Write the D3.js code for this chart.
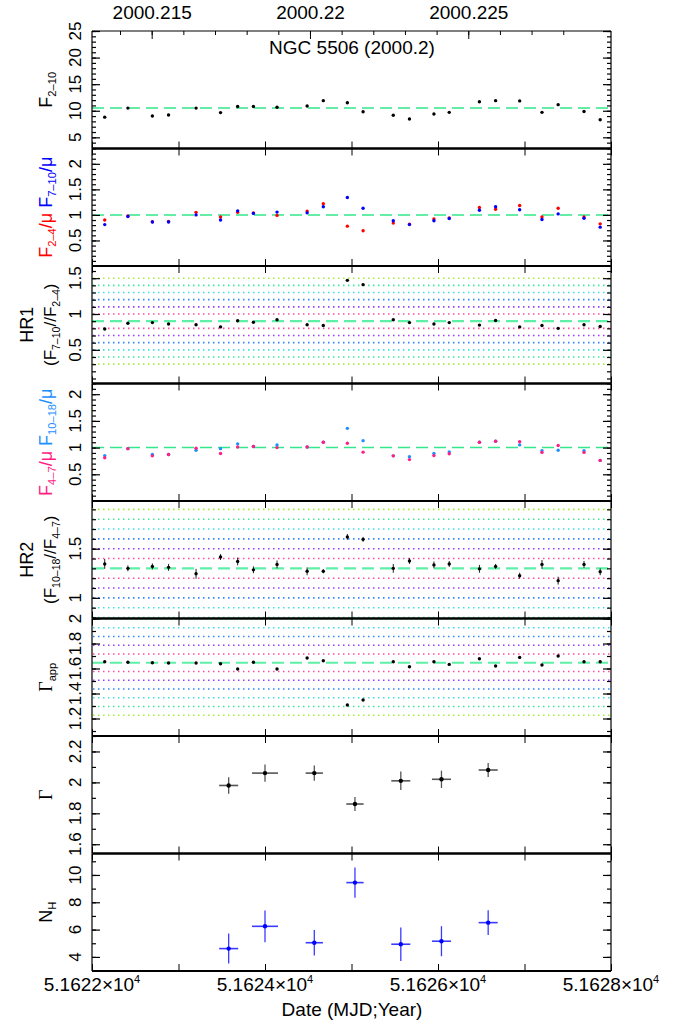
<!DOCTYPE html>
<meta charset="utf-8">
<head>
	<title>NGC 5506 (2000.2)</title>
</head>
<style>
	body { margin: 0; background: #fff; }
	text { font-family: "Liberation Sans", Arial, sans-serif; }
	.tick text { font-size: 19px; }
</style>
<body>
<div id="chart"></div>
<script src="https://d3js.org/d3.v7.min.js"></script>
<script>

// ---- light curve (24 bins) ----
var mjd = [51622.147, 51622.415, 51622.698, 51622.885, 51623.203, 51623.486, 51623.684, 51623.866,
	51624.139, 51624.487, 51624.674, 51624.952, 51625.134, 51625.483, 51625.670, 51625.953,
	51626.130, 51626.479, 51626.666, 51626.944, 51627.202, 51627.389, 51627.688, 51627.875];

var f210 = [8.8, 10.5, 9.0, 9.2, 10.5, 9.65, 10.8, 10.8, 10.65, 10.9, 11.9, 11.5,
	9.8, 9.15, 8.45, 9.4, 9.7, 11.7, 11.9, 11.85, 9.7, 11.15, 9.85, 8.3];
var f210Mean = 10.5;

var f24 = [0.90, 0.98, 0.865, 0.87, 1.05, 0.96, 1.05, 1.04, 0.99, 1.075, 1.22, 0.78,
	0.69, 0.84, 0.82, 0.92, 0.94, 1.145, 1.11, 1.185, 0.96, 1.13, 0.96, 0.825];
var f710 = [0.81, 0.97, 0.86, 0.86, 1.0, 0.90, 1.08, 1.03, 1.055, 1.04, 1.16, 1.34,
	1.13, 0.885, 0.81, 0.885, 0.93, 1.09, 1.16, 1.10, 0.91, 1.02, 0.935, 0.76];

var hr1 = [0.79, 0.87, 0.88, 0.86, 0.85, 0.82, 0.905, 0.885, 0.92, 0.85, 0.84, 1.47,
	1.41, 0.92, 0.88, 0.86, 0.88, 0.845, 0.91, 0.82, 0.84, 0.80, 0.85, 0.825];
var hr1Err = [0.012, 0.01, 0.01, 0.01, 0.01, 0.012, 0.01, 0.01, 0.01, 0.01, 0.01, 0.012,
	0.012, 0.01, 0.01, 0.01, 0.01, 0.01, 0.01, 0.01, 0.01, 0.01, 0.01, 0.012];
var hr1Mean = 0.9;

var f47 = [0.81, 0.98, 0.845, 0.87, 0.99, 0.89, 1.01, 1.02, 1.00, 1.01, 1.10, 1.08,
	0.915, 0.845, 0.775, 0.85, 0.885, 1.10, 1.12, 1.11, 0.91, 1.04, 0.91, 0.76];
var f1018 = [0.85, 0.98, 0.87, 0.87, 0.95, 0.98, 1.07, 1.02, 1.05, 1.01, 1.10, 1.36,
	1.13, 0.845, 0.83, 0.89, 0.92, 1.10, 1.12, 1.05, 0.94, 0.95, 0.94, 0.76];

var hr2 = [1.345, 1.30, 1.32, 1.31, 1.245, 1.415, 1.37, 1.285, 1.34, 1.27, 1.27, 1.62,
	1.595, 1.30, 1.375, 1.335, 1.345, 1.295, 1.32, 1.225, 1.34, 1.175, 1.34, 1.265];
var hr2Err = [0.05, 0.03, 0.03, 0.035, 0.05, 0.03, 0.04, 0.035, 0.04, 0.04, 0.02, 0.03,
	0.025, 0.045, 0.03, 0.035, 0.03, 0.04, 0.025, 0.03, 0.045, 0.04, 0.035, 0.035];
var hr2Mean = 1.3;

var gapp = [1.654, 1.65, 1.646, 1.644, 1.644, 1.638, 1.596, 1.65, 1.596, 1.684, 1.662, 1.308,
	1.348, 1.654, 1.614, 1.654, 1.633, 1.678, 1.62, 1.689, 1.628, 1.70, 1.654, 1.654];
var gappMean = 1.646;

// ---- spectral fits (7 intervals) ----
var specMjd = [51623.58, 51624.00, 51624.57, 51625.04, 51625.57, 51626.04, 51626.58];
var specMjdErr = [0.11, 0.15, 0.10, 0.10, 0.11, 0.11, 0.11];
var gamma = [1.98, 2.06, 2.06, 1.86, 2.01, 2.02, 2.08];
var gammaErr = [0.054, 0.056, 0.05, 0.045, 0.06, 0.056, 0.045];
var nh = [4.61, 6.24, 5.04, 9.44, 4.93, 5.15, 6.51];
var nhErr = [1.1, 1.16, 0.93, 1.1, 1.23, 1.1, 0.91];

// ---- axes ----
var yearTicks = [2000.215, 2000.22, 2000.225];
var mjdTicks = [51622, 51623, 51624, 51625, 51626, 51627, 51628];
var mjdLabels = [51622, 51624, 51626, 51628];
var bandSteps = [1, 2, 3, 4, 5, 6];
var bandColors = ["#ff4d9e", "#9a3cff", "#2f86ff", "#3ee0e6", "#3de89a", "#a6ee3a"];

var W = 684, H = 1026;
var plotL = 92, plotR = 611, plotTop = 31, ph = 117.5;

var svg = d3.select("#chart").append("svg").attr("width", W).attr("height", H);
var x = d3.scaleLinear().domain([51622, 51628]).range([plotL, plotR]);

function yearToMjd(yr) { return 51544 + (yr - 2000) * 366; }
function idx(a) { return a.map(function(d, i) { return i; }); }
function range(a, b, s) { return d3.range(Math.round(a / s), Math.round(b / s) + 1).map(function(k) { return +(k * s).toFixed(4); }); }

var panels = [
	{ domain: [2.9, 25], major: [5, 10, 15, 20, 25], minor: range(3, 25, 1), mean: f210Mean, meanW: 1.5,
	  series: [{ v: f210, c: "#000" }], label: [["F", "#000"], ["2\u201310", "#000", "sub"]] },
	{ domain: [0, 2.3], major: [0.5, 1, 1.5, 2], minor: range(0.1, 2.3, 0.1), mean: 1, meanW: 1.5,
	  series: [{ v: f24, c: "#ff0000" }, { v: f710, c: "#0000ff" }],
	  label: [["F", "#ff0000"], ["2\u20134", "#ff0000", "sub"], ["/\u03bc ", "#ff0000"], ["F", "#0000ff"], ["7\u201310", "#0000ff", "sub"], ["/\u03bc", "#0000ff"]] },
	{ domain: [0.03, 1.67], major: [0.5, 1, 1.5], minor: range(0.1, 1.6, 0.1), mean: hr1Mean, meanW: 2.2, bands: 0.1,
	  series: [{ v: hr1, c: "#000", err: hr1Err }], hr: "HR1", label: [["(F", "#000"], ["7\u201310", "#000", "sub"], ["//F", "#000"], ["2\u20134", "#000", "sub"], [")", "#000"]] },
	{ domain: [0, 2.2], major: [0.5, 1, 1.5, 2], minor: range(0.1, 2.2, 0.1), mean: 1, meanW: 1.5,
	  series: [{ v: f1018, c: "#1e8fff" }, { v: f47, c: "#ff1f86" }],
	  label: [["F", "#ff1f86"], ["4\u20137", "#ff1f86", "sub"], ["/\u03bc ", "#ff1f86"], ["F", "#1e8fff"], ["10\u201318", "#1e8fff", "sub"], ["/\u03bc", "#1e8fff"]] },
	{ domain: [0.79, 1.985], major: [1, 1.5], minor: range(0.8, 1.9, 0.1), mean: hr2Mean, meanW: 2.2, bands: 0.1,
	  series: [{ v: hr2, c: "#000", err: hr2Err }], hr: "HR2", label: [["(F", "#000"], ["10\u201318", "#000", "sub"], ["//F", "#000"], ["4\u20137", "#000", "sub"], [")", "#000"]] },
	{ domain: [1.06, 2.0], major: [1.2, 1.4, 1.6, 1.8, 2], minor: range(1.1, 2.0, 0.1), mean: gappMean, meanW: 2.2, bands: 0.07,
	  series: [{ v: gapp, c: "#000" }], label: [["\u0393", "#000", "serif"], ["app", "#000", "sub"]] },
	{ domain: [1.54, 2.30], major: [1.6, 1.8, 2, 2.2], minor: range(1.6, 2.3, 0.1),
	  spec: { v: gamma, e: gammaErr, c: "#000", bar: "#555" }, label: [["\u0393", "#000", "serif"]] },
	{ domain: [2.97, 11.57], major: [4, 6, 8, 10], minor: range(3, 11, 1),
	  spec: { v: nh, e: nhErr, c: "#0000ff", bar: "#3b3bff" }, label: [["N", "#000"], ["H", "#000", "sub"]] }
];

function addLabel(g, parts, px, py, size) {
	var t = g.append("text")
		.attr("transform", "translate(" + px + "," + py + ") rotate(-90)")
		.attr("text-anchor", "middle")
		.style("font-size", size + "px");
	var shifted = false;
	parts.forEach(function(p) {
		var s = t.append("tspan").text(p[0]).attr("fill", p[1]);
		if (p[2] === "sub") {
			s.style("font-size", (size * 0.62) + "px").attr("dy", shifted ? 0 : 4);
			shifted = true;
		} else {
			if (shifted) s.attr("dy", -4);
			shifted = false;
			if (p[2] === "serif") s.style("font-family", "'Liberation Serif', serif");
		}
	});
}

panels.forEach(function(p, i) {
	var y0 = plotTop + i * ph, y1 = y0 + ph;
	var y = d3.scaleLinear().domain(p.domain).range([y1, y0]);
	var g = svg.append("g");

	// coloured reference levels around the mean
	if (p.bands) {
		bandSteps.forEach(function(k, j) {
			[p.mean + k * p.bands, p.mean - k * p.bands].forEach(function(v) {
				if (v <= p.domain[0] || v >= p.domain[1]) return;
				g.append("line").attr("x1", plotL + 1).attr("x2", plotR - 1)
					.attr("y1", y(v)).attr("y2", y(v))
					.attr("stroke", bandColors[j]).attr("stroke-width", 1.6)
					.attr("stroke-dasharray", "1.5,3.5");
			});
		});
	}
	if (p.mean !== undefined) {
		g.append("line").attr("x1", plotL).attr("x2", plotR)
			.attr("y1", y(p.mean)).attr("y2", y(p.mean))
			.attr("stroke", p.meanW > 2 ? "#5ef0a6" : "#33e88c").attr("stroke-width", p.meanW)
			.attr("stroke-dasharray", "12,6");
	}

	(p.series || []).forEach(function(s) {
		if (s.err) {
			g.selectAll(null).data(idx(s.v)).enter().append("line")
				.attr("x1", function(j) { return x(mjd[j]); })
				.attr("x2", function(j) { return x(mjd[j]); })
				.attr("y1", function(j) { return y(s.v[j] - s.err[j]); })
				.attr("y2", function(j) { return y(s.v[j] + s.err[j]); })
				.attr("stroke", "#222").attr("stroke-width", 1);
		}
		g.selectAll(null).data(idx(s.v)).enter().append("circle")
			.attr("cx", function(j) { return x(mjd[j]); })
			.attr("cy", function(j) { return y(s.v[j]); })
			.attr("r", 1.7).attr("fill", s.c);
	});

	if (p.spec) {
		var s = p.spec;
		g.selectAll(null).data(idx(s.v)).enter().append("line")
			.attr("x1", function(j) { return x(specMjd[j]); })
			.attr("x2", function(j) { return x(specMjd[j]); })
			.attr("y1", function(j) { return y(s.v[j] - s.e[j]); })
			.attr("y2", function(j) { return y(s.v[j] + s.e[j]); })
			.attr("stroke", s.bar).attr("stroke-width", 1.3);
		g.selectAll(null).data(idx(s.v)).enter().append("line")
			.attr("x1", function(j) { return x(specMjd[j] - specMjdErr[j]); })
			.attr("x2", function(j) { return x(specMjd[j] + specMjdErr[j]); })
			.attr("y1", function(j) { return y(s.v[j]); })
			.attr("y2", function(j) { return y(s.v[j]); })
			.attr("stroke", s.bar).attr("stroke-width", 1.6);
		g.selectAll(null).data(idx(s.v)).enter().append("circle")
			.attr("cx", function(j) { return x(specMjd[j]); })
			.attr("cy", function(j) { return y(s.v[j]); })
			.attr("r", 2.2).attr("fill", s.c);
	}

	// y ticks, inward on both sides
	[[d3.axisLeft, plotL], [d3.axisRight, plotR]].forEach(function(a) {
		g.append("g").attr("transform", "translate(" + a[1] + ",0)")
			.call(a[0](y).tickValues(p.minor).tickSize(-4).tickFormat(""))
			.call(function(s) { s.select(".domain").remove(); });
		g.append("g").attr("transform", "translate(" + a[1] + ",0)")
			.call(a[0](y).tickValues(p.major).tickSize(-8).tickFormat(""))
			.call(function(s) { s.select(".domain").remove(); });
	});
	g.selectAll(".tick line").attr("stroke-width", 1.2);

	// rotated tick labels
	g.selectAll(null).data(p.major).enter().append("text")
		.attr("transform", function(v) { return "translate(81," + y(v) + ") rotate(-90)"; })
		.attr("text-anchor", "middle")
		.style("font-size", "17px")
		.text(function(v) { return d3.format("~g")(v); });

	// x ticks at top and bottom of each panel
	if (i > 0) {
		g.append("g").attr("transform", "translate(0," + y0 + ")")
			.call(d3.axisBottom(x).tickValues(mjdTicks).tickSize(7).tickFormat(""))
			.call(function(s) { s.select(".domain").remove(); });
	}
	g.append("g").attr("transform", "translate(0," + y1 + ")")
		.call(d3.axisTop(x).tickValues(mjdTicks).tickSize(7).tickFormat(""))
		.call(function(s) { s.select(".domain").remove(); });

	// frame
	g.append("line").attr("x1", plotL).attr("x2", plotL).attr("y1", y0).attr("y2", y1).attr("stroke", "#000").attr("stroke-width", 1.2);
	g.append("line").attr("x1", plotR).attr("x2", plotR).attr("y1", y0).attr("y2", y1).attr("stroke", "#000").attr("stroke-width", 1.2);
	g.append("line").attr("x1", plotL).attr("x2", plotR).attr("y1", y0).attr("y2", y0).attr("stroke", "#000").attr("stroke-width", i === 0 ? 1.2 : 2);
	g.append("line").attr("x1", plotL).attr("x2", plotR).attr("y1", y1).attr("y2", y1).attr("stroke", "#000").attr("stroke-width", 2);

	// axis title
	var yc = (y0 + y1) / 2;
	if (p.hr) {
		g.append("text").attr("transform", "translate(33," + yc + ") rotate(-90)")
			.attr("text-anchor", "middle").style("font-size", "18px").text(p.hr);
		addLabel(g, p.label, 56, yc, 17);
	} else {
		addLabel(g, p.label, 52, yc, 18);
	}
});

// top axis in years
var yearMinor = d3.range(2000.213, 2000.2285, 0.001).map(yearToMjd).filter(function(m) { return m > 51622 && m < 51628; });
svg.append("g").attr("transform", "translate(0," + plotTop + ")")
	.call(d3.axisTop(x).tickValues(yearMinor).tickSize(-4).tickFormat(""))
	.call(function(s) { s.select(".domain").remove(); });
svg.append("g").attr("transform", "translate(0," + plotTop + ")")
	.call(d3.axisTop(x).tickValues(yearTicks.map(yearToMjd)).tickSize(-8).tickPadding(12)
		.tickFormat(function(m, k) { return String(yearTicks[k]); }))
	.call(function(s) { s.select(".domain").remove(); });

svg.append("text").attr("x", 352).attr("y", 54).attr("text-anchor", "middle")
	.style("font-size", "19px").text("NGC 5506 (2000.2)");

// bottom labels in MJD
var plotBottom = plotTop + 8 * ph;
var lab = svg.selectAll(null).data(mjdLabels).enter().append("text")
	.attr("x", function(m) { return x(m); }).attr("y", plotBottom + 20)
	.attr("text-anchor", "middle").style("font-size", "19px");
lab.append("tspan").text(function(m) { return (m / 1e4).toFixed(4) + "\u00d710"; });
lab.append("tspan").text("4").style("font-size", "11px").attr("dy", -8);

svg.append("text").attr("x", 352).attr("y", plotBottom + 45).attr("text-anchor", "middle")
	.style("font-size", "19px").text("Date (MJD;Year)");

</script>
</body>
</html>
